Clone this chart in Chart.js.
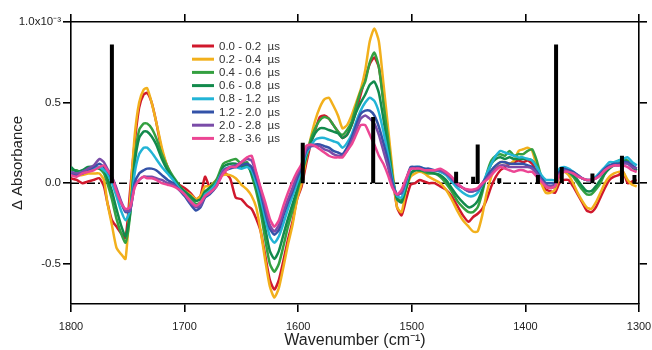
<!DOCTYPE html>
<html>
<head>
<meta charset="utf-8">
<script src="https://cdn.jsdelivr.net/npm/chart.js@4.4.1/dist/chart.umd.min.js"></script>
<style>
  html, body { margin: 0; padding: 0; background: #fff; }
  canvas { display: block; }
</style>
</head>
<body>
<canvas id="spectra" width="652" height="350"></canvas>
<script>
// wavenumber grid (cm-1)
const wn = [
  1800, 1795, 1790, 1785, 1780, 1775, 1771, 1768, 1764, 1760,
  1756, 1752, 1748, 1744, 1740, 1736, 1733, 1729, 1725, 1720,
  1715, 1710, 1705, 1700, 1695, 1690, 1686, 1682, 1678, 1672,
  1666, 1660, 1655, 1650, 1645, 1641, 1637, 1633, 1629, 1625,
  1621, 1617, 1613, 1609, 1605, 1601, 1597, 1593, 1589, 1585,
  1581, 1577, 1573, 1569, 1565, 1561, 1557, 1553, 1549, 1545,
  1541, 1537, 1533, 1529, 1525, 1521, 1517, 1513, 1509, 1505,
  1501, 1497, 1493, 1489, 1485, 1480, 1475, 1470, 1465, 1460,
  1455, 1450, 1446, 1442, 1438, 1434, 1430, 1426, 1422, 1418,
  1414, 1410, 1406, 1402, 1398, 1394, 1390, 1386, 1382, 1378,
  1374, 1370, 1366, 1362, 1358, 1354, 1350, 1346, 1342, 1338,
  1334, 1330, 1326, 1322, 1318, 1314, 1310, 1306, 1302
];

// delta absorbance, units of 1e-3
const abs00 = [
  0.03, 0.02, 0.0, 0.01, 0.02, 0.03, -0.02, -0.12, -0.23, -0.27,
  -0.31, -0.34, -0.05, 0.25, 0.47, 0.55, 0.56, 0.5, 0.38, 0.2,
  0.1, 0.03, -0.01, -0.03, -0.06, -0.1, -0.08, 0.04, -0.02, 0.02,
  0.07, 0.03, -0.09, -0.1, -0.14, -0.16, -0.22, -0.3, -0.45, -0.6,
  -0.66, -0.6, -0.48, -0.35, -0.24, -0.1, -0.02, 0.12, 0.24, 0.33,
  0.41, 0.42, 0.4, 0.36, 0.32, 0.28, 0.3, 0.36, 0.45, 0.55,
  0.65, 0.74, 0.78, 0.72, 0.52, 0.3, 0.05, -0.15, -0.2, -0.1,
  -0.01, 0.0, 0.02, 0.01, 0.0, 0.0, -0.02, -0.04, -0.08, -0.14,
  -0.2, -0.24, -0.21, -0.19, -0.16, -0.1, -0.02, 0.04, 0.08, 0.1,
  0.12, 0.13, 0.14, 0.13, 0.14, 0.12, 0.06, 0.0, -0.04, -0.05,
  -0.06, 0.0, 0.02, 0.02, -0.02, -0.07, -0.12, -0.17, -0.18, -0.15,
  -0.09, -0.03, 0.02, 0.04, 0.05, 0.07, 0.0, 0.01, 0.02
];
const abs02 = [
  0.06, 0.05, 0.05, 0.06, 0.06, 0.06, 0.02, -0.12, -0.26, -0.40,
  -0.44, -0.47, -0.11, 0.29, 0.50, 0.58, 0.59, 0.50, 0.38, 0.22,
  0.1, 0.03, -0.02, -0.05, -0.07, -0.1, -0.08, -0.02, -0.02, 0.02,
  0.05, 0.05, 0.03, -0.01, -0.04, -0.08, -0.15, -0.3, -0.48, -0.64,
  -0.71, -0.65, -0.52, -0.38, -0.26, -0.1, 0.0, 0.15, 0.28, 0.39,
  0.47, 0.52, 0.53, 0.48, 0.42, 0.34, 0.36, 0.42, 0.5, 0.58,
  0.7, 0.88, 0.96, 0.88, 0.62, 0.35, 0.08, -0.15, -0.18, -0.04,
  0.04, 0.06, 0.07, 0.06, 0.04, 0.02, 0.0, -0.04, -0.1, -0.17,
  -0.23, -0.27, -0.3, -0.3, -0.2, -0.06, 0.04, 0.1, 0.13, 0.13,
  0.12, 0.14, 0.2, 0.21, 0.22, 0.2, 0.1, 0.0, -0.06, -0.06,
  -0.04, 0.04, 0.07, 0.05, 0.0, -0.06, -0.11, -0.15, -0.16, -0.12,
  -0.06, 0.0, 0.04, 0.06, 0.07, 0.07, 0.02, -0.01, -0.02
];
const abs04 = [
  0.08, 0.08, 0.06, 0.09, 0.1, 0.09, 0.06, 0.0, -0.1, -0.22,
  -0.31, -0.37, -0.2, 0.15, 0.33, 0.37, 0.37, 0.34, 0.28, 0.18,
  0.1, 0.04, -0.01, -0.06, -0.09, -0.13, -0.12, -0.06, -0.03, 0.02,
  0.12, 0.14, 0.15, 0.12, 0.13, 0.05, -0.05, -0.18, -0.35, -0.5,
  -0.55, -0.5, -0.39, -0.27, -0.17, -0.06, 0.05, 0.16, 0.27, 0.34,
  0.39, 0.41, 0.4, 0.36, 0.32, 0.3, 0.33, 0.38, 0.48, 0.57,
  0.63, 0.75, 0.81, 0.72, 0.5, 0.28, 0.04, -0.09, -0.11, -0.03,
  0.06, 0.08, 0.08, 0.07, 0.06, 0.06, 0.04, 0.0, -0.05, -0.11,
  -0.15, -0.18, -0.18, -0.15, -0.06, 0.06, 0.14, 0.17, 0.18, 0.17,
  0.2, 0.17, 0.18, 0.18, 0.2, 0.21, 0.14, 0.04, -0.02, -0.03,
  -0.02, 0.06, 0.08, 0.07, 0.04, 0.0, -0.04, -0.07, -0.07, -0.04,
  0.0, 0.06, 0.1, 0.12, 0.14, 0.15, 0.14, 0.1, 0.08
];
const abs06 = [
  0.1, 0.07, 0.08, 0.1, 0.1, 0.09, 0.08, 0.03, -0.05, -0.16,
  -0.26, -0.33, -0.19, 0.12, 0.28, 0.32, 0.32, 0.29, 0.24, 0.15,
  0.08, 0.03, -0.02, -0.05, -0.08, -0.11, -0.1, -0.05, -0.03, 0.0,
  0.1, 0.12, 0.12, 0.1, 0.11, 0.06, -0.02, -0.14, -0.28, -0.42,
  -0.47, -0.42, -0.32, -0.22, -0.13, -0.04, 0.06, 0.17, 0.25, 0.31,
  0.34, 0.34, 0.33, 0.32, 0.31, 0.28, 0.3, 0.36, 0.44, 0.5,
  0.55, 0.61, 0.63, 0.56, 0.4, 0.22, 0.03, -0.1, -0.12, -0.03,
  0.06, 0.08, 0.08, 0.08, 0.07, 0.06, 0.05, 0.02, -0.03, -0.08,
  -0.12, -0.15, -0.14, -0.11, -0.04, 0.05, 0.12, 0.15, 0.16, 0.15,
  0.16, 0.15, 0.15, 0.15, 0.15, 0.14, 0.1, 0.04, -0.01, -0.02,
  -0.01, 0.06, 0.08, 0.07, 0.05, 0.02, -0.02, -0.05, -0.05, -0.02,
  0.02, 0.06, 0.09, 0.11, 0.12, 0.14, 0.13, 0.1, 0.08
];
const abs08 = [
  0.07, 0.06, 0.07, 0.08, 0.09, 0.1, 0.08, 0.06, 0.0, -0.08,
  -0.17, -0.23, -0.17, 0.06, 0.18, 0.22, 0.22, 0.19, 0.15, 0.1,
  0.06, 0.02, -0.03, -0.07, -0.11, -0.14, -0.13, -0.07, -0.05, 0.0,
  0.08, 0.1, 0.1, 0.09, 0.1, 0.08, 0.0, -0.1, -0.22, -0.33,
  -0.37, -0.33, -0.25, -0.16, -0.08, 0.0, 0.08, 0.18, 0.23, 0.27,
  0.28, 0.28, 0.27, 0.26, 0.25, 0.22, 0.25, 0.3, 0.38, 0.45,
  0.5, 0.53, 0.51, 0.44, 0.32, 0.18, 0.02, -0.08, -0.09, 0.0,
  0.09, 0.1, 0.1, 0.09, 0.08, 0.08, 0.07, 0.05, 0.01, -0.03,
  -0.06, -0.08, -0.08, -0.06, -0.01, 0.06, 0.12, 0.17, 0.2, 0.19,
  0.18, 0.17, 0.16, 0.16, 0.15, 0.14, 0.1, 0.05, 0.02, 0.02,
  0.02, 0.09, 0.1, 0.09, 0.07, 0.05, 0.03, 0.02, 0.02, 0.04,
  0.07, 0.1, 0.13, 0.13, 0.14, 0.15, 0.16, 0.13, 0.11
];
const abs12 = [
  0.06, 0.05, 0.06, 0.08, 0.1, 0.12, 0.1, 0.08, 0.03, -0.04,
  -0.12, -0.18, -0.17, 0.0, 0.06, 0.08, 0.09, 0.09, 0.08, 0.05,
  0.02, 0.0, -0.04, -0.08, -0.13, -0.17, -0.15, -0.09, -0.07, -0.02,
  0.07, 0.09, 0.1, 0.11, 0.12, 0.1, 0.03, -0.06, -0.18, -0.28,
  -0.32, -0.29, -0.2, -0.12, -0.05, 0.03, 0.1, 0.2, 0.23, 0.24,
  0.24, 0.23, 0.22, 0.2, 0.19, 0.18, 0.22, 0.28, 0.36, 0.43,
  0.45, 0.45, 0.42, 0.35, 0.25, 0.14, 0.0, -0.07, -0.06, 0.02,
  0.1, 0.1, 0.1, 0.09, 0.09, 0.08, 0.08, 0.06, 0.03, -0.01,
  -0.03, -0.05, -0.05, -0.04, 0.0, 0.04, 0.08, 0.11, 0.13, 0.13,
  0.12, 0.12, 0.12, 0.12, 0.11, 0.1, 0.07, 0.03, 0.0, 0.0,
  0.0, 0.07, 0.09, 0.08, 0.07, 0.05, 0.03, 0.02, 0.02, 0.03,
  0.06, 0.09, 0.11, 0.12, 0.12, 0.13, 0.13, 0.11, 0.09
];
const abs20 = [
  0.07, 0.06, 0.07, 0.09, 0.11, 0.15, 0.13, 0.09, 0.04, -0.03,
  -0.11, -0.17, -0.17, -0.02, 0.02, 0.04, 0.04, 0.04, 0.03, 0.02,
  0.0, -0.01, -0.04, -0.07, -0.12, -0.15, -0.14, -0.08, -0.06, -0.02,
  0.08, 0.1, 0.11, 0.13, 0.15, 0.14, 0.06, -0.04, -0.15, -0.26,
  -0.3, -0.26, -0.18, -0.1, -0.03, 0.05, 0.11, 0.21, 0.23, 0.23,
  0.23, 0.21, 0.2, 0.18, 0.17, 0.17, 0.2, 0.26, 0.33, 0.4,
  0.42, 0.4, 0.37, 0.3, 0.2, 0.1, -0.02, -0.07, -0.06, 0.02,
  0.09, 0.09, 0.09, 0.08, 0.08, 0.08, 0.08, 0.06, 0.03, -0.01,
  -0.03, -0.05, -0.05, -0.04, -0.01, 0.03, 0.06, 0.09, 0.11, 0.11,
  0.1, 0.1, 0.1, 0.1, 0.1, 0.09, 0.06, 0.02, -0.01, -0.02,
  -0.01, 0.06, 0.08, 0.07, 0.06, 0.05, 0.03, 0.02, 0.02, 0.03,
  0.05, 0.08, 0.1, 0.11, 0.11, 0.12, 0.12, 0.1, 0.09
];
const abs28 = [
  0.05, 0.04, 0.06, 0.07, 0.08, 0.1, 0.11, 0.08, 0.04, -0.05,
  -0.12, -0.16, -0.15, -0.03, 0.02, 0.04, 0.03, 0.03, 0.02, 0.0,
  -0.01, -0.02, -0.04, -0.07, -0.11, -0.14, -0.12, -0.08, -0.06, -0.02,
  0.06, 0.1, 0.1, 0.13, 0.16, 0.17, 0.07, -0.03, -0.12, -0.22,
  -0.27, -0.23, -0.14, -0.06, 0.01, 0.07, 0.12, 0.23, 0.24, 0.23,
  0.21, 0.19, 0.17, 0.16, 0.16, 0.16, 0.2, 0.24, 0.3, 0.36,
  0.36, 0.3, 0.24, 0.17, 0.12, 0.05, -0.03, -0.07, -0.04, 0.03,
  0.09, 0.09, 0.09, 0.08, 0.08, 0.08, 0.09, 0.07, 0.04, 0.0,
  -0.03, -0.04, -0.04, -0.03, 0.0, 0.02, 0.05, 0.08, 0.1, 0.09,
  0.08, 0.07, 0.08, 0.08, 0.07, 0.07, 0.04, 0.01, -0.02, -0.03,
  -0.02, 0.05, 0.07, 0.07, 0.06, 0.04, 0.03, 0.02, 0.02, 0.03,
  0.05, 0.08, 0.1, 0.11, 0.11, 0.11, 0.1, 0.08, 0.07
];

const seriesLabels = [
  "0.0 - 0.2  \u00b5s", "0.2 - 0.4  \u00b5s", "0.4 - 0.6  \u00b5s", "0.6 - 0.8  \u00b5s",
  "0.8 - 1.2  \u00b5s", "1.2 - 2.0  \u00b5s", "2.0 - 2.8  \u00b5s", "2.8 - 3.6  \u00b5s"
];
const seriesValues = [abs00, abs02, abs04, abs06, abs08, abs12, abs20, abs28];
const seriesColors = ["#d0182c", "#f2b01c", "#34a040", "#128a4c", "#22b4d6", "#3352a8", "#7a4ca8", "#ec4694"];

// calculated stick spectrum
const stickPositions = [1764, 1596, 1534, 1461, 1446, 1442, 1423, 1389, 1373, 1368, 1341, 1315, 1304];
const stickHeights = [0.86, 0.25, 0.41, 0.07, 0.04, 0.24, 0.03, 0.05, 0.86, 0.1, 0.06, 0.17, 0.05];

const xTicks = [1800, 1700, 1600, 1500, 1400, 1300];
const yTicks = [-0.5, 0.0, 0.5, 1.0];

const font = "'Liberation Sans', Arial, Helvetica, sans-serif";
Chart.defaults.font.family = font;
Chart.defaults.color = "#222";

const datasets = seriesValues.map((vals, i) => ({
  label: seriesLabels[i],
  data: wn.map((w, j) => ({ x: w, y: vals[j] })),
  borderColor: seriesColors[i],
  borderWidth: 2.5,
  pointRadius: 0,
  tension: 0.2,
  order: 8 - i,
}));

const stickData = [];
stickPositions.forEach((p, i) => {
  stickData.push({ x: p, y: 0 }, { x: p, y: stickHeights[i] }, { x: p, y: null });
});
datasets.push({
  label: "sticks",
  data: stickData,
  borderColor: "#000",
  borderWidth: 4,
  borderCapStyle: "butt",
  pointRadius: 0,
  spanGaps: false,
  order: 0,
});
datasets.push({
  label: "zero",
  data: [{ x: 1800, y: 0 }, { x: 1300, y: 0 }],
  borderColor: "#000",
  borderWidth: 1.5,
  borderDash: [8, 3, 2, 3],
  pointRadius: 0,
  order: 9,
});

const axisBorder = { display: true, color: "#000", width: 1.6 };
const tickGrid = { drawOnChartArea: false, drawTicks: true, tickLength: 8, color: "#000", lineWidth: 1.6 };

// pin the plot frame to the reference position
function fixH(h) {
  return (s) => { s.height = h; s.paddingLeft = 0; s.paddingRight = 0; };
}
function fixW(w) {
  return (s) => { s.width = w; s.paddingTop = 0; s.paddingBottom = 0; };
}

const insideLegend = {
  id: "insideLegend",
  afterDatasetsDraw(chart) {
    const ctx = chart.ctx;
    const left = chart.chartArea.left + 121;
    const top = chart.chartArea.top + 24;
    ctx.save();
    ctx.font = "11.5px " + font;
    ctx.textBaseline = "middle";
    seriesLabels.forEach((label, i) => {
      const y = top + i * 13.2;
      ctx.strokeStyle = seriesColors[i];
      ctx.lineWidth = 3;
      ctx.beginPath();
      ctx.moveTo(left, y);
      ctx.lineTo(left + 22, y);
      ctx.stroke();
      ctx.fillStyle = "#333";
      ctx.fillText(label, left + 27, y + 0.5);
    });
    ctx.restore();
  },
};

new Chart(document.getElementById("spectra"), {
  type: "line",
  data: { datasets },
  plugins: [insideLegend],
  options: {
    responsive: false,
    animation: false,
    layout: { padding: 0 },
    plugins: { legend: { display: false }, tooltip: { enabled: false } },
    scales: {
      x: {
        type: "linear",
        position: "bottom",
        reverse: true,
        min: 1300,
        max: 1800,
        border: axisBorder,
        grid: tickGrid,
        afterBuildTicks: (s) => { s.ticks = xTicks.map((v) => ({ value: v })); },
        afterFit: fixH(46),
        ticks: { font: { size: 11 }, padding: 8, maxRotation: 0, callback: (v) => String(v) },
        title: { display: true, text: "Wavenumber (cm\u207b\u00b9)", font: { size: 16 }, padding: { top: 0, bottom: 0 } },
      },
      x2: {
        type: "linear",
        axis: "x",
        position: "top",
        reverse: true,
        min: 1300,
        max: 1800,
        border: axisBorder,
        grid: tickGrid,
        afterBuildTicks: (s) => { s.ticks = xTicks.map((v) => ({ value: v })); },
        afterFit: fixH(22),
        ticks: { display: false },
      },
      y: {
        type: "linear",
        position: "left",
        min: -0.75,
        max: 1.0,
        border: axisBorder,
        grid: tickGrid,
        afterBuildTicks: (s) => { s.ticks = yTicks.map((v) => ({ value: v })); },
        afterFit: fixW(71),
        ticks: {
          font: { size: 11.5 },
          padding: 2,
          callback: (v) => (v === 1 ? "1.0x10\u207b\u00b3" : v.toFixed(1)),
        },
        title: { display: true, text: "\u0394 Absorbance", font: { size: 15 }, padding: { top: 9, bottom: 0 } },
      },
      y2: {
        type: "linear",
        axis: "y",
        position: "right",
        min: -0.75,
        max: 1.0,
        border: axisBorder,
        grid: tickGrid,
        afterBuildTicks: (s) => { s.ticks = yTicks.map((v) => ({ value: v })); },
        afterFit: fixW(13),
        ticks: { display: false },
      },
    },
  },
});
</script>
</body>
</html>
